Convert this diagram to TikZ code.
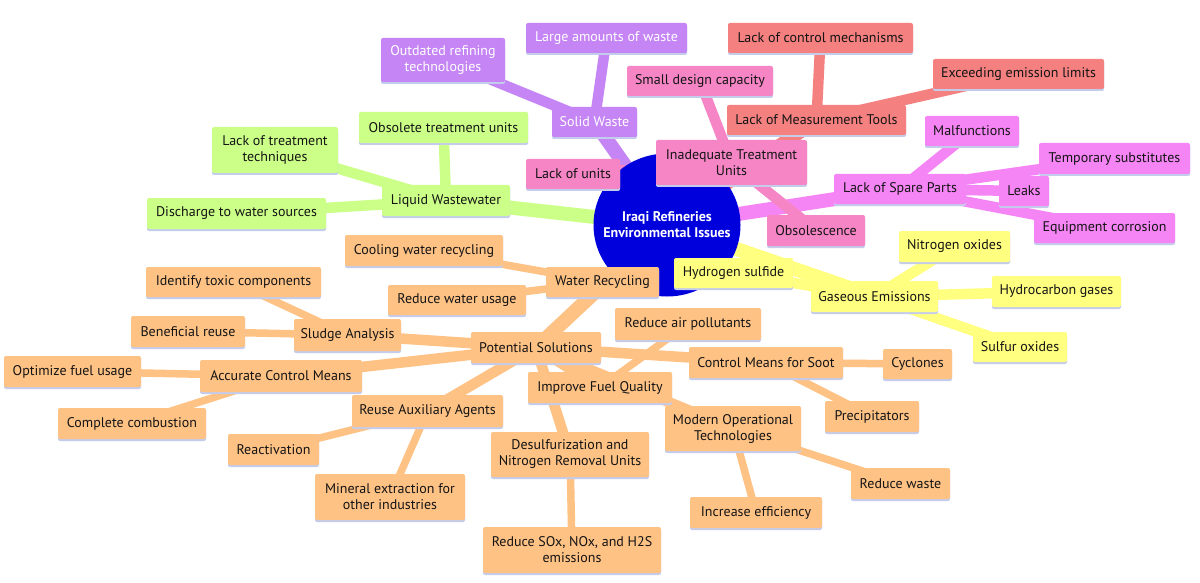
\documentclass[tikz,border=0pt]{standalone}
\usepackage{fontspec}
\setmainfont{PT Sans}
\usetikzlibrary{shapes.geometric,shadows}
\pgfdeclarelayer{bg}
\pgfsetlayers{bg,main}
\definecolor{rootc}{RGB}{0,0,220}
\definecolor{cpur}{RGB}{197,133,245}
\definecolor{cpink}{RGB}{245,133,197}
\definecolor{cred}{RGB}{245,128,128}
\definecolor{cmag}{RGB}{245,133,245}
\definecolor{cyel}{RGB}{255,255,128}
\definecolor{cgrn}{RGB}{204,255,136}
\definecolor{corg}{RGB}{255,194,133}
\definecolor{txt}{RGB}{20,20,20}
\definecolor{shd}{RGB}{196,204,236}
\tikzset{
  mbox/.style={rectangle, rounded corners=2pt, inner sep=0pt, align=center,
    font=\fontsize{14}{16}\selectfont, text=txt,
    drop shadow={shadow xshift=0pt, shadow yshift=-2pt, fill=shd, opacity=1}},
  pur/.style={fill=cpur, text=white},
  pink/.style={fill=cpink},
  red/.style={fill=cred},
  mag/.style={fill=cmag},
  yel/.style={fill=cyel},
  grn/.style={fill=cgrn},
  org/.style={fill=corg},
  eA/.style={line width=14pt},
  eB/.style={line width=10.5pt},
  eC/.style={line width=7.5pt},
}
\newcommand\mmbox[7]{\node[mbox,#2,minimum width={(#5)-(#3)},minimum height={(#6)-(#4)}] (#1) at ({((#3)+(#5))/2},{((#4)+(#6))/2}) {#7};}
\begin{document}
\begin{tikzpicture}[x=1pt,y=-1pt]
\useasboundingbox (0,0) rectangle (1200,583);
\begin{pgfonlayer}{bg}
\fill[white] (0,0) rectangle (1200,583);
\end{pgfonlayer}
% root
\node[ellipse, fill=rootc, minimum width=147pt, minimum height=143pt, inner sep=0pt] (root) at (667,225) {};
\node[text=white, align=center, inner sep=0pt, font=\bfseries\fontsize{14}{16}\selectfont] (roottxt) at (root.center)
  {Iraqi Refineries\\Environmental Issues};
% Solid waste
\mmbox{sw}{pur}{552}{107}{637}{137}{Solid Waste}
\mmbox{otr}{pur}{381}{38}{505}{82}{Outdated refining\\technologies}
\mmbox{law}{pur}{526}{23}{687}{53}{Large amounts of waste}
% Inadequate treatment units
\mmbox{itu}{pink}{656}{140}{807}{185}{Inadequate Treatment\\Units}
\mmbox{sdc}{pink}{627}{66}{773}{96}{Small design capacity}
\mmbox{lou}{pink}{526}{159}{620}{189}{Lack of units}
\mmbox{obs}{pink}{767}{215}{865}{246}{Obsolescence}
% Measurement tools
\mmbox{lmt}{red}{727}{105}{906}{135}{Lack of Measurement Tools}
\mmbox{lcm}{red}{728}{23}{913}{53}{Lack of control mechanisms}
\mmbox{eel}{red}{933}{59}{1104}{89}{Exceeding emission limits}
% Spare parts
\mmbox{lsp}{mag}{834}{174}{966}{204}{Lack of Spare Parts}
\mmbox{mal}{mag}{925}{116}{1019}{146}{Malfunctions}
\mmbox{tmp}{mag}{1039}{143}{1190}{174}{Temporary substitutes}
\mmbox{lk}{mag}{999}{176}{1049}{206}{Leaks}
\mmbox{eqc}{mag}{1034}{213}{1175}{243}{Equipment corrosion}
% Gaseous emissions
\mmbox{ge}{yel}{811}{281}{938}{312}{Gaseous Emissions}
\mmbox{hs}{yel}{674}{258}{793}{288}{Hydrogen sulfide}
\mmbox{no}{yel}{899}{231}{1010}{262}{Nitrogen oxides}
\mmbox{hc}{yel}{992}{276}{1121}{307}{Hydrocarbon gases}
\mmbox{so}{yel}{973}{332}{1067}{362}{Sulfur oxides}
% Liquid wastewater
\mmbox{lw}{grn}{382}{185}{510}{216}{Liquid Wastewater}
\mmbox{otu}{grn}{359}{112}{528}{143}{Obsolete treatment units}
\mmbox{ltt}{grn}{212}{127}{338}{173}{Lack of treatment\\techniques}
\mmbox{dws}{grn}{147}{198}{326}{229}{Discharge to water sources}
% Potential solutions
\mmbox{ps}{org}{471}{332}{601}{363}{Potential Solutions}
\mmbox{wr}{org}{546}{267}{659}{297}{Water Recycling}
\mmbox{cwr}{org}{345}{235}{503}{266}{Cooling water recycling}
\mmbox{rwu}{org}{388}{285}{526}{315}{Reduce water usage}
\mmbox{sa}{org}{294}{319}{401}{351}{Sludge Analysis}
\mmbox{itc}{org}{146}{267}{321}{297}{Identify toxic components}
\mmbox{br}{org}{131}{316}{245}{347}{Beneficial reuse}
\mmbox{acm}{org}{200}{360}{362}{392}{Accurate Control Means}
\mmbox{ofu}{org}{4}{356}{141}{387}{Optimize fuel usage}
\mmbox{cc}{org}{58}{408}{206}{439}{Complete combustion}
\mmbox{raa}{org}{352}{395}{503}{427}{Reuse Auxiliary Agents}
\mmbox{rea}{org}{228}{434}{319}{465}{Reactivation}
\mmbox{mef}{org}{315}{474}{465}{520}{Mineral extraction for\\other industries}
\mmbox{ifq}{org}{528}{372}{672}{403}{Improve Fuel Quality}
\mmbox{rap}{org}{615}{308}{761}{340}{Reduce air pollutants}
\mmbox{dnr}{org}{491}{432}{649}{477}{Desulfurization and\\Nitrogen Removal Units}
\mmbox{rsx}{org}{483}{527}{661}{573}{Reduce SOx, NOx, and H2S\\emissions}
\mmbox{cms}{org}{689}{347}{843}{378}{Control Means for Soot}
\mmbox{cyc}{org}{883}{349}{952}{379}{Cyclones}
\mmbox{pre}{org}{825}{401}{919}{432}{Precipitators}
\mmbox{mot}{org}{665}{406}{801}{451}{Modern Operational\\Technologies}
\mmbox{ie}{org}{690}{497}{822}{528}{Increase efficiency}
\mmbox{rw}{org}{851}{468}{950}{499}{Reduce waste}
% edges
\begin{pgfonlayer}{bg}
\draw[eA,cpur] (root.center) -- (sw.center);
\draw[eA,cpink] (root.center) -- (itu.center);
\draw[eA,cred] (root.center) -- (lmt.center);
\draw[eA,cmag] (root.center) -- (lsp.center);
\draw[eA,cyel] (root.center) -- (ge.center);
\draw[eA,cgrn] (root.center) -- (lw.center);
\draw[eA,corg] (root.center) -- (ps.center);
\foreach \a/\b in {sw/otr,sw/law}{\draw[eB,cpur] (\a.center) -- (\b.center);}
\foreach \a/\b in {itu/sdc,itu/lou,itu/obs}{\draw[eB,cpink] (\a.center) -- (\b.center);}
\foreach \a/\b in {lmt/lcm,lmt/eel}{\draw[eB,cred] (\a.center) -- (\b.center);}
\foreach \a/\b in {lsp/mal,lsp/tmp,lsp/lk,lsp/eqc}{\draw[eB,cmag] (\a.center) -- (\b.center);}
\foreach \a/\b in {ge/hs,ge/no,ge/hc,ge/so}{\draw[eB,cyel] (\a.center) -- (\b.center);}
\foreach \a/\b in {lw/otu,lw/ltt,lw/dws}{\draw[eB,cgrn] (\a.center) -- (\b.center);}
\foreach \a/\b in {ps/wr,ps/sa,ps/acm,ps/raa,ps/ifq,ps/dnr,ps/cms,ps/mot}{\draw[eB,corg] (\a.center) -- (\b.center);}
\foreach \a/\b in {wr/cwr,wr/rwu,sa/itc,sa/br,acm/ofu,acm/cc,raa/rea,raa/mef,ifq/rap,dnr/rsx,cms/cyc,cms/pre,mot/ie,mot/rw}{\draw[eC,corg] (\a.center) -- (\b.center);}
\end{pgfonlayer}
\end{tikzpicture}
\end{document}
